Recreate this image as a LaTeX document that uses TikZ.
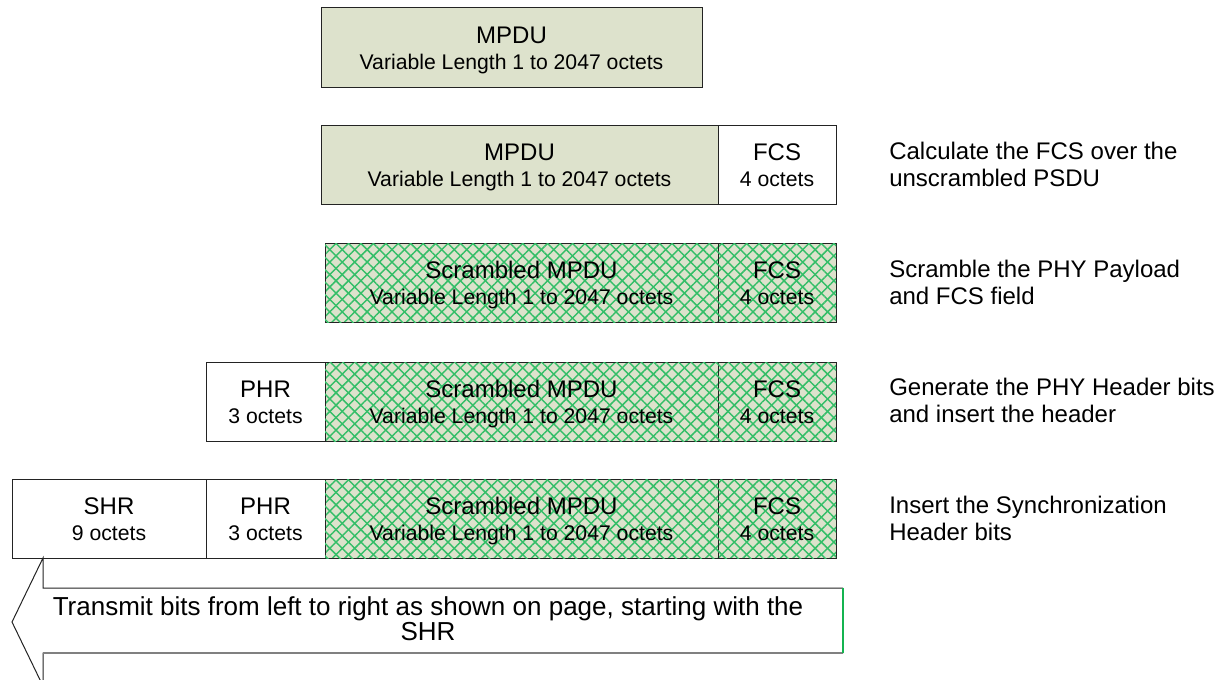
\documentclass[tikz,border=0pt]{standalone}
\usepackage{fontspec}
\setmainfont{Liberation Sans}
\usetikzlibrary{calc,patterns.meta}

\definecolor{mpdubg}{RGB}{221,226,204}
\definecolor{hatch}{RGB}{52,190,104}
\definecolor{edge}{RGB}{35,35,35}
\definecolor{arrowgreen}{RGB}{20,180,80}

\tikzset{
  plainfield/.style={draw=edge, line width=0.75pt, fill=white, inner sep=0pt},
  mpdufield/.style={plainfield, fill=mpdubg},
  scramfield/.style={plainfield, fill=none,
    preaction={fill=mpdubg},
    preaction={pattern={Lines[angle=45, distance=6.6pt, line width=1.1pt]}, pattern color=hatch},
    postaction={pattern={Lines[angle=-45, distance=6.6pt, line width=1.1pt]}, pattern color=hatch}},
  titletext/.style={anchor=base, inner sep=0pt, font=\fontsize{18}{20}\selectfont},
  subtext/.style={anchor=base, inner sep=0pt, font=\fontsize{15.9}{18}\selectfont},
  steptext/.style={anchor=west, inner sep=0pt, align=left,
    font=\fontsize{18}{20.25}\selectfont},
  sendtext/.style={anchor=base, inner sep=0pt, font=\fontsize{19.5}{22}\selectfont},
}

% one frame field: name, style, x1, x2, y1, y2, title, subtitle
\newcommand\framefield[8]{%
  \node[#2, minimum width={(#4-#3)*0.75pt}, minimum height={(#6-#5)*0.75pt}]
    (#1) at ({(#3+#4)/2},{(#5+#6)/2}) {};
  \node[titletext] (#1-t) at ($(#1.center)+(0,-4)$) {#7};
  \node[subtext]   (#1-s) at ($(#1.center)+(0,22)$) {#8};
}

\begin{document}
\begin{tikzpicture}[x=0.75pt,y=-0.75pt]
\useasboundingbox (0,0) rectangle (1217,679);

% row 1: bare MPDU
\framefield{m1}{mpdufield}{321}{702}{7}{87}{MPDU}{Variable Length 1 to 2047 octets}

% row 2: MPDU + FCS
\framefield{m2}{mpdufield}{321}{718}{125}{204}{MPDU}{Variable Length 1 to 2047 octets}
\framefield{f2}{plainfield}{718}{836}{125}{204}{FCS}{4 octets}
\node[steptext] (s2) at (889,164) {Calculate the FCS over the\\unscrambled PSDU};

% row 3: scrambled payload
\framefield{m3}{scramfield}{325}{718}{243}{322}{Scrambled MPDU}{Variable Length 1 to 2047 octets}
\framefield{f3}{scramfield}{718}{836}{243}{322}{FCS}{4 octets}
\node[steptext] (s3) at (889,282) {Scramble the PHY Payload\\and FCS field};

% row 4: PHY header added
\framefield{p4}{plainfield}{206}{325}{362}{441}{PHR}{3 octets}
\framefield{m4}{scramfield}{325}{718}{362}{441}{Scrambled MPDU}{Variable Length 1 to 2047 octets}
\framefield{f4}{scramfield}{718}{836}{362}{441}{FCS}{4 octets}
\node[steptext] (s4) at (889,400) {Generate the PHY Header bits\\and insert the header};

% row 5: synchronization header added
\framefield{h5}{plainfield}{12}{206}{479}{558}{SHR}{9 octets}
\framefield{p5}{plainfield}{206}{325}{479}{558}{PHR}{3 octets}
\framefield{m5}{scramfield}{325}{718}{479}{558}{Scrambled MPDU}{Variable Length 1 to 2047 octets}
\framefield{f5}{scramfield}{718}{836}{479}{558}{FCS}{4 octets}
\node[steptext] (s5) at (889,518) {Insert the Synchronization\\Header bits};

% transmit-direction block arrow below the last row
\coordinate (atl) at (843,588);
\coordinate (atr) at (843,653);
\draw[edge, line width=0.75pt]
  (atl) -- (43,588) -- (43,558) -- (12,622) -- (43,686) -- (43,653) -- (atr);
\draw[gray, line width=1.3pt] (43,653) -- (atr);
\draw[arrowgreen, line width=1.3pt] (atl) -- (atr);
\node[sendtext] (tx1) at (428,615) {Transmit bits from left to right as shown on page, starting with the};
\node[sendtext] (tx2) at (428,640) {SHR};
\end{tikzpicture}
\end{document}
